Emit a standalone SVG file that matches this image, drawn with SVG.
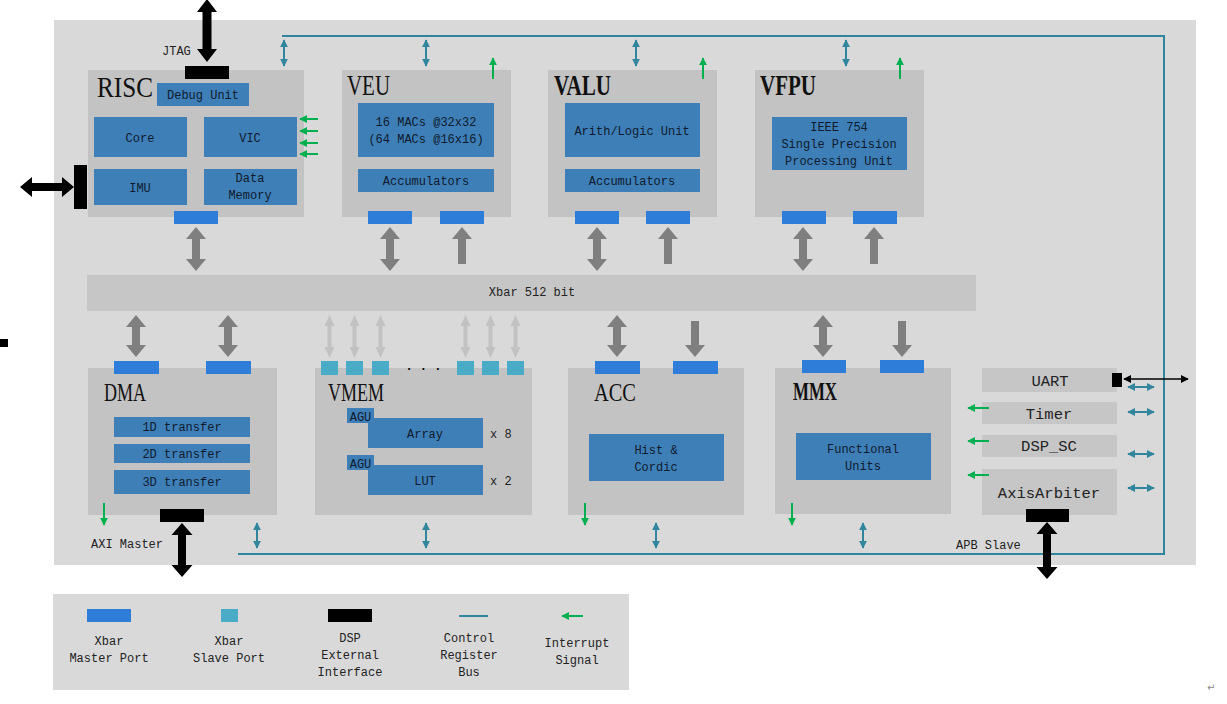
<svg xmlns="http://www.w3.org/2000/svg" xmlns:xlink="http://www.w3.org/1999/xlink" width="1227" height="704" viewBox="0 0 1227 704">
<defs>
<style>
.bg{fill:#d9d9d9}
.mod{fill:#c3c3c3}
.blk{fill:#3e7fb8}
.mp{fill:#2e7dd9}
.sp{fill:#4aabc6}
.ext{fill:#000}
.per{fill:#c6c6c6}
.ti{font-family:"Liberation Serif","Times New Roman",serif;fill:#111}
.b{font-weight:bold}
.t{font-family:"Liberation Mono","DejaVu Sans Mono",monospace;font-size:12px;fill:#0f1b2d;text-anchor:middle}
.lt{font-family:"Liberation Mono","DejaVu Sans Mono",monospace;font-size:12px;fill:#222}
.lc{text-anchor:middle}
.pt{font-family:"Liberation Mono","DejaVu Sans Mono",monospace;font-size:15.5px;fill:#222;text-anchor:middle}
.ga{fill:#7f7f7f}
.la{fill:#c2c2c2}
.ba{fill:#000}
.tl{stroke:#31859c;stroke-width:2;fill:none}
.gr{stroke:#00b050;stroke-width:2;fill:none}
</style>
<marker id="mt" viewBox="0 0 10 10" refX="9" refY="5" markerWidth="8" markerHeight="8" markerUnits="userSpaceOnUse" orient="auto-start-reverse"><path d="M0,0 L10,5 L0,10 z" fill="#31859c"/></marker>
<marker id="mg" viewBox="0 0 10 10" refX="9" refY="5" markerWidth="8" markerHeight="8" markerUnits="userSpaceOnUse" orient="auto-start-reverse"><path d="M0,0 L10,5 L0,10 z" fill="#00b050"/></marker>
<marker id="mb" viewBox="0 0 10 10" refX="9" refY="5" markerWidth="8" markerHeight="8" markerUnits="userSpaceOnUse" orient="auto-start-reverse"><path d="M0,0 L10,5 L0,10 z" fill="#000"/></marker>
<path id="gd2" d="M0,0 L10,12 L4,12 L4,32 L10,32 L0,44 L-10,32 L-4,32 L-4,12 L-10,12 Z"/>
<path id="gup" d="M0,0 L10,12 L4,12 L4,37 L-4,37 L-4,12 L-10,12 Z"/>
<path id="gd3" d="M0,0 L10,12 L4,12 L4,30 L10,30 L0,42 L-10,30 L-4,30 L-4,12 L-10,12 Z"/>
<path id="gdn" d="M-4,0 L4,0 L4,24 L10,24 L0,36 L-10,24 L-4,24 Z"/>
<path id="lar" d="M0,0 L5,11 L2,11 L2,32 L5,32 L0,43 L-5,32 L-2,32 L-2,11 L-5,11 Z"/>
</defs>

<rect width="1227" height="704" fill="#ffffff"/>
<rect id="frame" class="bg" x="54" y="20" width="1142" height="545"/>
<rect x="0" y="339" width="8" height="8" fill="#000"/>

<g id="RISC">
<rect class="mod" x="88" y="70" width="216" height="147"/>
<text class="ti" x="97" y="97" font-size="29" textLength="56" lengthAdjust="spacingAndGlyphs">RISC</text>
<rect class="blk" x="157" y="83" width="92" height="23"/>
<text class="t" x="203" y="99">Debug Unit</text>
<rect class="blk" x="94" y="117" width="93" height="40"/>
<text class="t" x="140" y="142">Core</text>
<rect class="blk" x="204" y="117" width="93" height="40"/>
<text class="t" x="250" y="142">VIC</text>
<rect class="blk" x="94" y="169" width="93" height="36"/>
<text class="t" x="140" y="192">IMU</text>
<rect class="blk" x="204" y="169" width="93" height="36"/>
<text class="t" x="250" y="182">Data</text>
<text class="t" x="250" y="199">Memory</text>
<rect class="mp" x="174" y="211" width="44" height="13"/>
<rect class="ext" x="185" y="66" width="44" height="13"/>
<rect class="ext" x="74" y="165" width="13" height="44"/>
<text class="lt" x="162" y="55">JTAG</text>
</g>

<g id="VEU">
<rect class="mod" x="342" y="70" width="169" height="147"/>
<text class="ti" x="347" y="95" font-size="29" textLength="43" lengthAdjust="spacingAndGlyphs">VEU</text>
<rect class="blk" x="358" y="103" width="136" height="54"/>
<text class="t" x="426" y="126">16 MACs @32x32</text>
<text class="t" x="426" y="143">(64 MACs @16x16)</text>
<rect class="blk" x="358" y="169" width="136" height="23"/>
<text class="t" x="426" y="185">Accumulators</text>
<rect class="mp" x="368" y="211" width="44" height="13"/>
<rect class="mp" x="440" y="211" width="44" height="13"/>
</g>

<g id="VALU">
<rect class="mod" x="548" y="70" width="169" height="147"/>
<text class="ti b" x="554" y="95" font-size="29" textLength="57" lengthAdjust="spacingAndGlyphs">VALU</text>
<rect class="blk" x="565" y="103" width="135" height="54"/>
<text class="t" x="632" y="135">Arith/Logic Unit</text>
<rect class="blk" x="565" y="169" width="135" height="23"/>
<text class="t" x="632" y="185">Accumulators</text>
<rect class="mp" x="575" y="211" width="44" height="13"/>
<rect class="mp" x="646" y="211" width="44" height="13"/>
</g>

<g id="VFPU">
<rect class="mod" x="755" y="70" width="169" height="147"/>
<text class="ti b" x="760" y="95" font-size="29" textLength="56" lengthAdjust="spacingAndGlyphs">VFPU</text>
<rect class="blk" x="772" y="117" width="135" height="53"/>
<text class="t" x="839" y="131">IEEE 754</text>
<text class="t" x="839" y="148">Single Precision</text>
<text class="t" x="839" y="165">Processing Unit</text>
<rect class="mp" x="782" y="211" width="44" height="13"/>
<rect class="mp" x="853" y="211" width="44" height="13"/>
</g>

<g id="Xbar">
<rect x="87" y="275" width="889" height="36" fill="#c6c6c6"/>
<text class="t" x="532" y="296" style="fill:#222">Xbar 512 bit</text>
</g>

<g id="DMA">
<rect class="mod" x="88" y="368" width="189" height="147"/>
<text class="ti" x="104" y="401" font-size="26" textLength="42" lengthAdjust="spacingAndGlyphs">DMA</text>
<rect class="blk" x="114" y="417" width="136" height="20"/>
<text class="t" x="182" y="431">1D transfer</text>
<rect class="blk" x="114" y="444" width="136" height="19"/>
<text class="t" x="182" y="458">2D transfer</text>
<rect class="blk" x="114" y="470" width="136" height="24"/>
<text class="t" x="182" y="486">3D transfer</text>
<rect class="mp" x="114" y="361" width="45" height="13"/>
<rect class="mp" x="206" y="361" width="45" height="13"/>
<rect class="ext" x="160" y="509" width="44" height="13"/>
<text class="lt" x="91" y="548">AXI Master</text>
</g>

<g id="VMEM">
<rect class="mod" x="315" y="368" width="217" height="147"/>
<text class="ti" x="328" y="401" font-size="26" textLength="56" lengthAdjust="spacingAndGlyphs">VMEM</text>
<rect class="blk" x="347" y="408" width="27" height="15"/>
<rect class="blk" x="368" y="418" width="115" height="30"/>
<rect class="blk" x="347" y="455" width="27" height="15"/>
<rect class="blk" x="368" y="465" width="115" height="30"/>
<text class="t" x="360.5" y="421" font-size="11">AGU</text>
<text class="t" x="360.5" y="468" font-size="11">AGU</text>
<text class="t" x="425" y="438">Array</text>
<text class="t" x="425" y="485">LUT</text>
<text class="lt" x="490" y="438">x 8</text>
<text class="lt" x="490" y="485">x 2</text>
<rect class="sp" x="321" y="361" width="17" height="14"/>
<rect class="sp" x="346" y="361" width="17" height="14"/>
<rect class="sp" x="372" y="361" width="17" height="14"/>
<rect class="sp" x="457" y="361" width="17" height="14"/>
<rect class="sp" x="482" y="361" width="17" height="14"/>
<rect class="sp" x="507" y="361" width="17" height="14"/>
<text class="lt b" x="405.4" y="370" style="fill:#000">. . .</text>
</g>

<g id="ACC">
<rect class="mod" x="568" y="368" width="176" height="147"/>
<text class="ti" x="594" y="401" font-size="26" textLength="42" lengthAdjust="spacingAndGlyphs">ACC</text>
<rect class="blk" x="589" y="434" width="135" height="47"/>
<text class="t" x="656" y="454">Hist &amp;</text>
<text class="t" x="656" y="471">Cordic</text>
<rect class="mp" x="595" y="361" width="45" height="13"/>
<rect class="mp" x="673" y="361" width="45" height="13"/>
</g>

<g id="MMX">
<rect class="mod" x="775" y="368" width="176" height="146"/>
<text class="ti b" x="793" y="400" font-size="26" textLength="44" lengthAdjust="spacingAndGlyphs">MMX</text>
<rect class="blk" x="796" y="433" width="135" height="47"/>
<text class="t" x="863" y="453">Functional</text>
<text class="t" x="863" y="470">Units</text>
<rect class="mp" x="802" y="360" width="44" height="13"/>
<rect class="mp" x="880" y="360" width="44" height="13"/>
</g>

<g id="UART">
<rect class="per" x="982" y="368" width="135" height="24"/>
<text class="pt" x="1050" y="386">UART</text>
<rect class="ext" x="1112" y="373" width="10" height="14"/>
</g>
<g id="Timer">
<rect class="per" x="982" y="402" width="135" height="22"/>
<text class="pt" x="1049" y="419">Timer</text>
</g>
<g id="DSP_SC">
<rect class="per" x="982" y="435" width="135" height="22"/>
<text class="pt" x="1049" y="451">DSP_SC</text>
</g>
<g id="AxisArbiter">
<rect class="per" x="982" y="469" width="135" height="46"/>
<text class="pt" x="1049" y="498">AxisArbiter</text>
<rect class="ext" x="1026" y="509" width="43" height="13"/>
<text class="lt" x="956" y="549">APB Slave</text>
</g>

<g id="connectors">
<path class="tl" d="M282,36 H1164 V554 H238"/>
<g class="ga">
<use xlink:href="#gd2" x="196" y="227"/>
<use xlink:href="#gd2" x="390" y="227"/>
<use xlink:href="#gup" x="462" y="227"/>
<use xlink:href="#gd2" x="597" y="227"/>
<use xlink:href="#gup" x="668" y="227"/>
<use xlink:href="#gd2" x="803" y="227"/>
<use xlink:href="#gup" x="874" y="227"/>
<use xlink:href="#gd3" x="136" y="315"/>
<use xlink:href="#gd3" x="228" y="315"/>
<use xlink:href="#gd3" x="617" y="315"/>
<use xlink:href="#gdn" x="695" y="321"/>
<use xlink:href="#gd3" x="823" y="315"/>
<use xlink:href="#gdn" x="902" y="321"/>
</g>
<g class="la">
<use xlink:href="#lar" x="329.5" y="315"/>
<use xlink:href="#lar" x="354.5" y="315"/>
<use xlink:href="#lar" x="380.5" y="315"/>
<use xlink:href="#lar" x="465.5" y="315"/>
<use xlink:href="#lar" x="490.5" y="315"/>
<use xlink:href="#lar" x="515.5" y="315"/>
</g>
<g class="ba">
<polygon points="207,-1 217,12 211.5,12 211.5,49 217,49 207,62 197,49 202.5,49 202.5,12 197,12"/>
<polygon points="20,187 32,177 32,183 62,183 62,177 74,187 62,197 62,191 32,191 32,197"/>
<polygon points="182,523 192.5,535 186,535 186,565 192.5,565 182,577 171.5,565 178,565 178,535 171.5,535"/>
<polygon points="1047,522 1057.5,534 1051,534 1051,567 1057.5,567 1047,579 1036.5,567 1043,567 1043,534 1036.5,534"/>
</g>
<line x1="1124" y1="379" x2="1188" y2="379" stroke="#000" stroke-width="1.5" marker-start="url(#mb)" marker-end="url(#mb)"/>
<g class="tl" marker-start="url(#mt)" marker-end="url(#mt)">
<line x1="284" y1="40" x2="284" y2="66"/>
<line x1="426" y1="40" x2="426" y2="66"/>
<line x1="636" y1="40" x2="636" y2="66"/>
<line x1="846" y1="40" x2="846" y2="66"/>
<line x1="257" y1="523" x2="257" y2="548"/>
<line x1="426" y1="523" x2="426" y2="548"/>
<line x1="656" y1="523" x2="656" y2="548"/>
<line x1="863" y1="523" x2="863" y2="548"/>
<line x1="1128" y1="387" x2="1154" y2="387"/>
<line x1="1128" y1="412" x2="1154" y2="412"/>
<line x1="1128" y1="454" x2="1154" y2="454"/>
<line x1="1128" y1="488" x2="1154" y2="488"/>
</g>
<g class="gr" marker-end="url(#mg)">
<line x1="493" y1="79" x2="493" y2="58"/>
<line x1="703" y1="79" x2="703" y2="58"/>
<line x1="900" y1="79" x2="900" y2="58"/>
<line x1="318" y1="119" x2="300" y2="119"/>
<line x1="318" y1="131" x2="300" y2="131"/>
<line x1="318" y1="143" x2="300" y2="143"/>
<line x1="318" y1="154" x2="300" y2="154"/>
<line x1="989" y1="408" x2="968" y2="408"/>
<line x1="989" y1="441" x2="968" y2="441"/>
<line x1="989" y1="475" x2="968" y2="475"/>
<line x1="104" y1="503" x2="104" y2="525"/>
<line x1="585" y1="503" x2="585" y2="525"/>
<line x1="792" y1="503" x2="792" y2="525"/>
</g>
</g>

<g id="legend">
<rect class="bg" x="53" y="594" width="576" height="96"/>
<rect class="mp" x="87" y="609" width="44" height="13"/>
<rect class="sp" x="221" y="609" width="17" height="13"/>
<rect class="ext" x="328" y="609" width="44" height="13"/>
<line x1="459" y1="616" x2="488" y2="616" stroke="#31859c" stroke-width="2"/>
<line x1="583" y1="616" x2="562" y2="616" class="gr" marker-end="url(#mg)"/>
<text class="lt lc" x="109" y="645">Xbar</text>
<text class="lt lc" x="109" y="662">Master Port</text>
<text class="lt lc" x="229" y="645">Xbar</text>
<text class="lt lc" x="229" y="662">Slave Port</text>
<text class="lt lc" x="350" y="642">DSP</text>
<text class="lt lc" x="350" y="659">External</text>
<text class="lt lc" x="350" y="676">Interface</text>
<text class="lt lc" x="469" y="642">Control</text>
<text class="lt lc" x="469" y="659">Register</text>
<text class="lt lc" x="469" y="676">Bus</text>
<text class="lt lc" x="577" y="647">Interrupt</text>
<text class="lt lc" x="577" y="664">Signal</text>
</g>
<text x="1207" y="691" font-family="DejaVu Sans,sans-serif" font-size="10" fill="#888">↵</text>
</svg>
